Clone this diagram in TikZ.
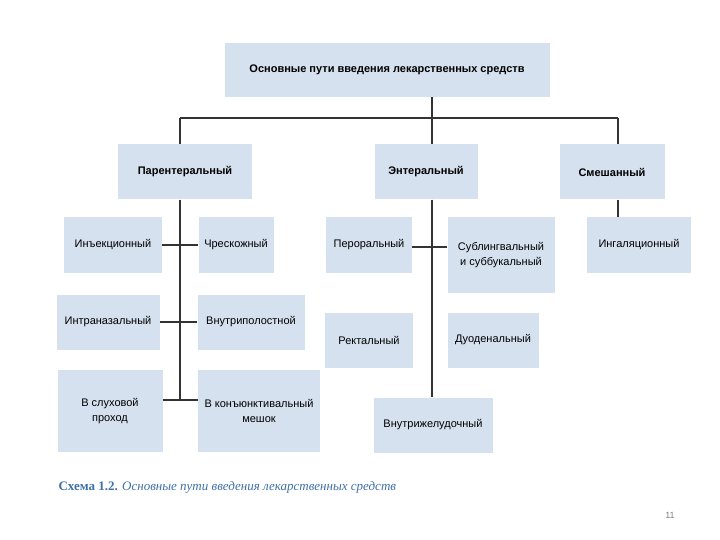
\documentclass[tikz,border=0pt]{standalone}
\usepackage{fontspec}
\setmainfont{Liberation Sans}
\newfontfamily\capfont{Liberation Serif}
\usetikzlibrary{positioning}
\definecolor{boxblue}{HTML}{D5E1EE}
\definecolor{capblue}{HTML}{3F6FA8}
\definecolor{linegray}{HTML}{333333}
\tikzset{
  routebox/.style={fill=boxblue, inner sep=0pt, align=center, font=\fontsize{11}{15}\selectfont},
  headbox/.style={routebox, font=\bfseries\fontsize{11}{15}\selectfont},
  link/.style={draw=linegray, line width=1.1pt}
}
\begin{document}
\begin{tikzpicture}[x=1pt,y=-1pt]
  \useasboundingbox (0,0) rectangle (720,540);

  % Top level
  \node[headbox, minimum width=325pt, minimum height=54pt] (main) at (387,70)
    {Основные пути введения лекарственных средств};
  \node[headbox, minimum width=134pt, minimum height=55pt] (par) at (185,172) {Парентеральный};
  \node[headbox, minimum width=103pt, minimum height=55pt] (ent) at (426,172) {Энтеральный};
  \node[headbox, minimum width=105pt, minimum height=55pt] (mix) at (612,172) {Смешанный};

  % Parenteral routes
  \node[routebox, minimum width=98pt, minimum height=55pt] (inj) at (113,245) {Инъекционный};
  \node[routebox, minimum width=75pt, minimum height=55pt] (skin) at (236,245) {Чрескожный};
  \node[routebox, minimum width=103pt, minimum height=55pt] (nasal) at (108,322) {Интраназальный};
  \node[routebox, minimum width=107pt, minimum height=55pt] (cavity) at (251,322) {Внутриполостной};
  \node[routebox, minimum width=105pt, minimum height=82pt] (ear) at (110,411) {В слуховой\\проход};
  \node[routebox, minimum width=122pt, minimum height=82pt] (eye) at (259,411) {В конъюнктивальный\\мешок};

  % Enteral routes
  \node[routebox, minimum width=86pt, minimum height=55pt] (oral) at (369,245) {Пероральный};
  \node[routebox, minimum width=107pt, minimum height=75pt] (subl) at (501,255) {Сублингвальный\\и суббукальный};
  \node[routebox, minimum width=88pt, minimum height=55pt] (rect) at (369,340) {Ректальный};
  \node[routebox, minimum width=91pt, minimum height=55pt] (duod) at (493,340) {Дуоденальный};
  \node[routebox, minimum width=119pt, minimum height=55pt] (gastr) at (433,425) {Внутрижелудочный};

  % Mixed route
  \node[routebox, minimum width=104pt, minimum height=55pt] (inh) at (639,245) {Ингаляционный};

  % Bus
  \coordinate (busL) at (180,118);
  \coordinate (busR) at (618,118);
  \draw[link] (main.south -| 432,0) -- (432,118);
  \draw[link] (busL) -- (busR);
  \draw[link] (busL) -- (par.north -| busL);
  \draw[link] (432,118) -- (ent.north -| 432,0);
  \draw[link] (busR) -- (mix.north -| busR);

  % Parenteral spine
  \coordinate (pspine) at (180,400);
  \draw[link] (par.south -| pspine) -- (pspine);
  \draw[link] (inj.east) -- (skin.west);
  \draw[link] (nasal.east |- 0,322) -- (cavity.west);
  \draw[link] (ear.east |- 0,400) -- (eye.west |- 0,400);

  % Enteral spine
  \draw[link] (ent.south -| 432,0) -- (gastr.north -| 432,0);
  \draw[link] (oral.east |- 0,247) -- (subl.west |- 0,247);

  % Mixed
  \draw[link] (mix.south -| busR) -- (inh.north -| busR);

  % Caption and page number
  \node[anchor=west, text=capblue, font=\capfont\fontsize{13}{15}\selectfont] (cap) at (55,487)
    {\textbf{Схема 1.2.} \textit{Основные пути введения лекарственных средств}};
  \node[text=gray, font=\fontsize{9}{10}\selectfont] (page) at (670,515) {11};
\end{tikzpicture}
\end{document}
